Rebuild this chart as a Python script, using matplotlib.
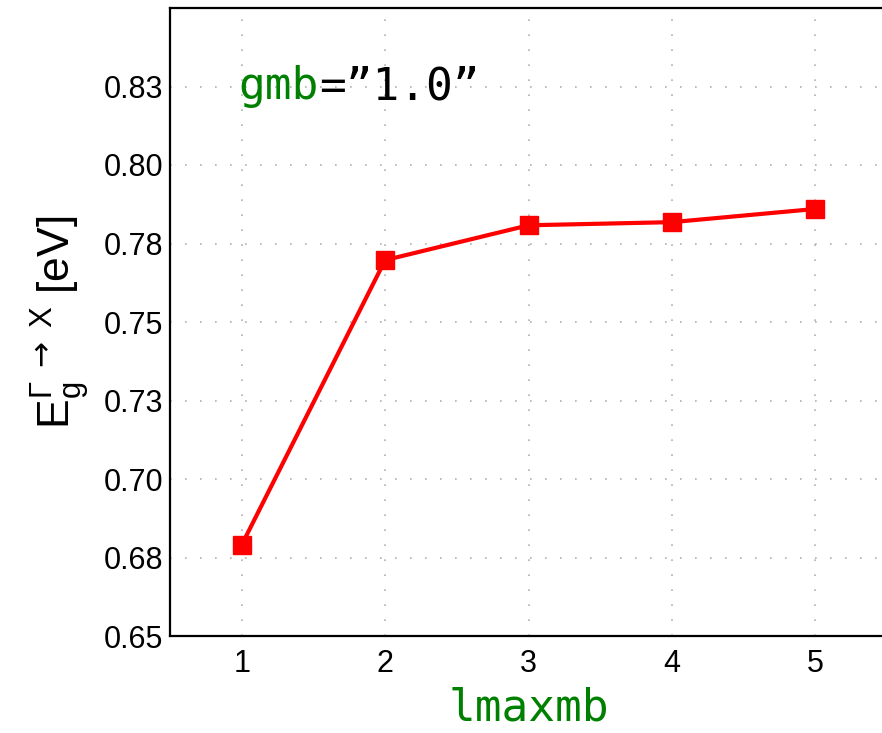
import numpy as np
import matplotlib
matplotlib.use("Agg")
import matplotlib.pyplot as plt

plt.rcParams['font.family'] = ['Liberation Sans', 'DejaVu Sans']
plt.rcParams['mathtext.fontset'] = 'custom'
plt.rcParams['mathtext.rm'] = 'Liberation Sans'
plt.rcParams['mathtext.it'] = 'Liberation Sans'
plt.rcParams['mathtext.bf'] = 'DejaVu Sans'

# Данные
lmaxmb = [1, 2, 3, 4, 5]
gap = [0.679, 0.7697, 0.7808, 0.7818, 0.786]
yticks = [0.65, 0.675, 0.70, 0.725, 0.75, 0.775, 0.80, 0.825]
ytick_labels = ['0.65', '0.68', '0.70', '0.73', '0.75', '0.78', '0.80', '0.83']

fig = plt.figure(figsize=(8.82, 7.33), dpi=100)
ax = fig.add_axes([170 / 882, 1 - 636 / 733, 717 / 882, 628 / 733])

ax.plot(lmaxmb, gap, color='red', lw=3, marker='s', ms=12.5, zorder=3)

ax.set_xlim(0.5, 5.5)
ax.set_ylim(0.65, 0.85)
ax.set_xticks(lmaxmb)
ax.set_yticks(yticks)
ax.set_yticklabels(ytick_labels)
ax.tick_params(length=0, labelsize=22, pad=5)
ax.tick_params(axis='x', pad=9)
ax.grid(True, linestyle=(0, (1, 8)), color='#b0b0b0', lw=1.2)
for s in ax.spines.values():
    s.set_linewidth(1.6)

ax.set_xlabel('lmaxmb', family='DejaVu Sans Mono', color='green', fontsize=32, labelpad=6)
ax.set_ylabel(r'$\mathrm{E_g^{\Gamma\ \mathbf{\rightarrow}\ X}}$ [eV]', fontsize=32)
ax.yaxis.set_label_coords(-0.109, 0.5)

t1 = ax.text(0.98, 0.825, 'gmb', family='DejaVu Sans Mono', color='green', fontsize=32, va='center')
ax.annotate('=\u201d1.0\u201d', xy=(1, 0), xycoords=t1, va='bottom',
            family='DejaVu Sans Mono', color='black', fontsize=32)

fig.savefig("out.png")
